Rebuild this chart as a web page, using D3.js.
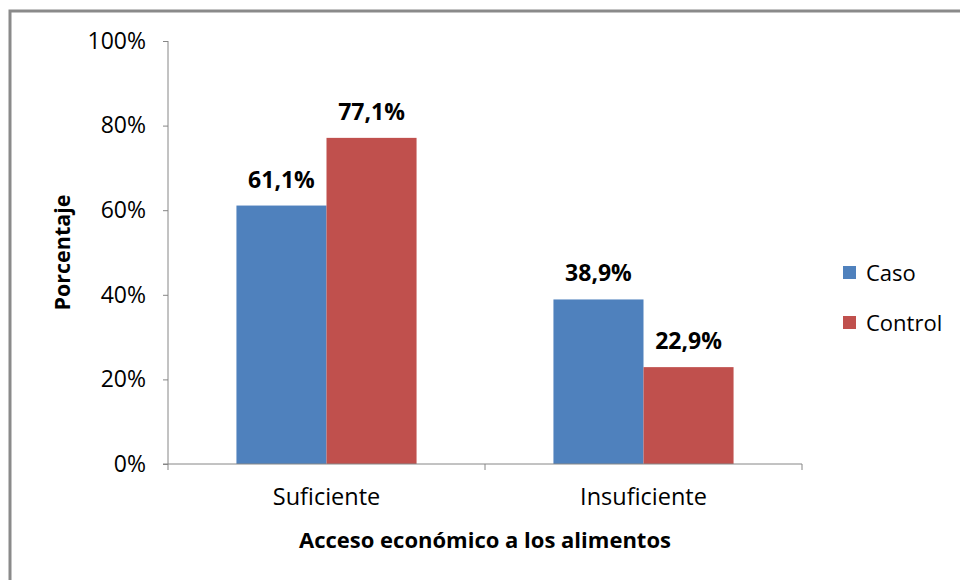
<!DOCTYPE html>
<html>
<head>
<meta charset="utf-8">
<script src="https://cdn.jsdelivr.net/npm/d3@7"></script>
<style>
  html, body { margin: 0; padding: 0; background: #fff; }
  svg { display: block; font-family: "Open Sans", "Noto Sans", sans-serif; }
</style>
</head>
<body>
<svg id="chart" width="960" height="580"></svg>
<script>
// Acceso económico a los alimentos: casos vs controles
const categories = ["Suficiente", "Insuficiente"];
const seriesNames = ["Caso", "Control"];
const casoValues = [61.1, 38.9];
const controlValues = [77.1, 22.9];
const yTicks = [0, 20, 40, 60, 80, 100];
const colors = ["#4F81BD", "#C0504D"];

const svg = d3.select("#chart");

// outer chart-area frame
svg.append("rect")
  .attr("x", 10).attr("y", 11)
  .attr("width", 980).attr("height", 600)
  .attr("fill", "#fff")
  .attr("stroke", "#8a8a8a").attr("stroke-width", 3);

const plot = { left: 168, right: 802, top: 41, bottom: 464 };

const x = d3.scaleBand().domain(categories).range([plot.left, plot.right]).paddingInner(0).paddingOuter(0);
const xs = d3.scaleBand().domain(seriesNames).range([0, x.bandwidth()]).paddingInner(0).paddingOuter(0.76);
const y = d3.scaleLinear().domain([0, 100]).range([plot.bottom, plot.top]);

const rows = categories.map((c, i) => ({ cat: c, vals: [casoValues[i], controlValues[i]] }));

// bars
const groups = svg.append("g").selectAll("g").data(rows).join("g")
  .attr("transform", d => `translate(${x(d.cat)},0)`);

groups.selectAll("rect").data(d => d.vals.map((v, j) => ({ v, s: seriesNames[j], j })))
  .join("rect")
  .attr("x", d => xs(d.s))
  .attr("y", d => y(d.v))
  .attr("width", xs.bandwidth())
  .attr("height", d => y(0) - y(d.v))
  .attr("fill", d => colors[d.j]);

// value labels
groups.selectAll("text.val").data(d => d.vals.map((v, j) => ({ v, s: seriesNames[j], j })))
  .join("text").attr("class", "val")
  .attr("x", d => xs(d.s) + xs.bandwidth() / 2)
  .attr("y", d => y(d.v) - 18)
  .attr("text-anchor", "middle")
  .attr("font-size", 23).attr("font-weight", "bold").attr("fill", "#000")
  .text(d => d.v.toFixed(1).replace(".", ",") + "%");

// y axis
const yAxis = d3.axisLeft(y).tickValues(yTicks).tickSize(5).tickPadding(17)
  .tickFormat(d => d + "%");
const gy = svg.append("g").attr("transform", `translate(${plot.left},0)`).call(yAxis);
gy.select(".domain").attr("stroke", "#868686").attr("d", `M0,${plot.top}V${plot.bottom}`);
gy.selectAll(".tick line").attr("stroke", "#868686");
gy.selectAll(".tick text").attr("font-size", 23).attr("fill", "#000")
  .attr("font-family", "Open Sans");

// x axis
const xAxis = d3.axisBottom(x).tickSize(0).tickPadding(24);
const gx = svg.append("g").attr("transform", `translate(0,${plot.bottom})`).call(xAxis);
gx.select(".domain").attr("stroke", "#868686").attr("d", `M${plot.left - 5},0H${plot.right}`);
gx.selectAll(".tick text").attr("font-size", 23.5).attr("fill", "#000")
  .attr("font-family", "Open Sans");
// category separators
const bounds = [plot.left, plot.left + x.bandwidth(), plot.right];
gx.selectAll("line.sep").data(bounds).join("line").attr("class", "sep")
  .attr("x1", d => d).attr("x2", d => d).attr("y1", 0).attr("y2", 6)
  .attr("stroke", "#868686");

// axis titles
svg.append("text")
  .attr("x", (plot.left + plot.right) / 2).attr("y", 548)
  .attr("text-anchor", "middle").attr("font-size", 22).attr("font-weight", "bold")
  .text("Acceso económico a los alimentos");

svg.append("text")
  .attr("transform", `translate(70,${(plot.top + plot.bottom) / 2}) rotate(-90)`)
  .attr("text-anchor", "middle").attr("font-size", 21.5).attr("font-weight", "bold")
  .text("Porcentaje");

// legend
const legend = svg.append("g").attr("transform", "translate(843,266)");
const li = legend.selectAll("g").data(seriesNames).join("g")
  .attr("transform", (d, i) => `translate(0,${i * 50})`);
li.append("rect").attr("width", 13).attr("height", 13).attr("fill", (d, i) => colors[i]);
li.append("text").attr("x", 23).attr("y", 7).attr("dy", "0.35em")
  .attr("font-size", 22).text(d => d);
</script>
</body>
</html>
